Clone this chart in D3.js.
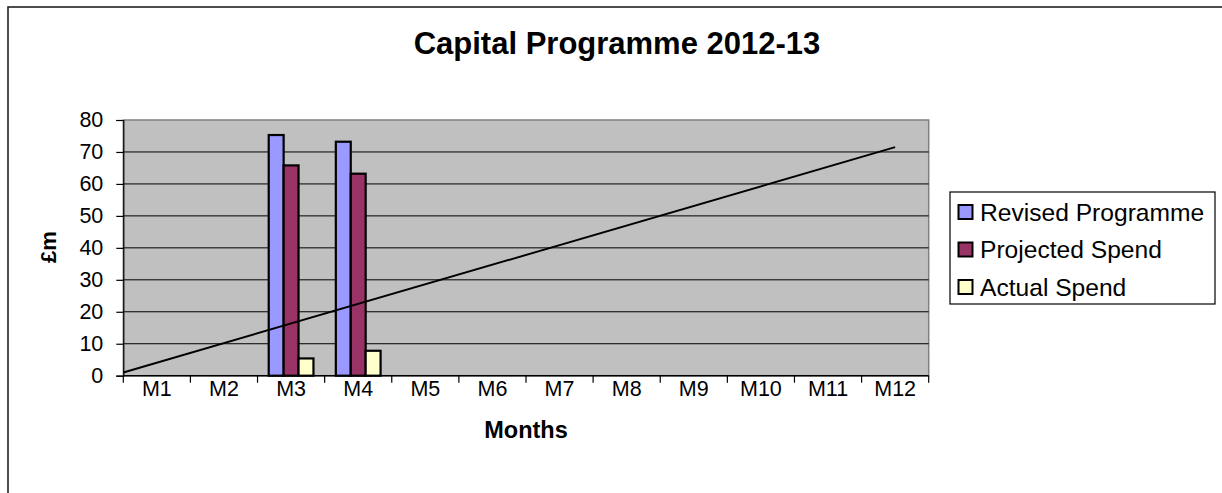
<!DOCTYPE html>
<html>
<head>
<meta charset="utf-8">
<script src="https://cdn.jsdelivr.net/npm/d3@7"></script>
<style>
  html, body { margin: 0; padding: 0; background: #fff; overflow: hidden; }
  svg { display: block; }
  text { font-family: "Liberation Sans", Arial, sans-serif; fill: #000; }
</style>
</head>
<body>
<svg id="chart" width="1222" height="493"></svg>
<script>
// Months on the category axis
const months = ["M1", "M2", "M3", "M4", "M5", "M6", "M7", "M8", "M9", "M10", "M11", "M12"];

// Bar series (£m); months without a reported value are null
const seriesNames = ["Revised Programme", "Projected Spend", "Actual Spend"];
const revisedProgramme = [null, null, 75.3, 73.2, null, null, null, null, null, null, null, null];
const projectedSpend   = [null, null, 65.8, 63.2, null, null, null, null, null, null, null, null];
const actualSpend      = [null, null, 5.4, 7.8, null, null, null, null, null, null, null, null];

// Straight profile line: position along the month axis (in months) and value (£m)
const profileMonthPos = [0, 11.5];
const profileValues   = [1.0, 71.5];

// Value axis ticks
const yTicks = [0, 10, 20, 30, 40, 50, 60, 70, 80];

const seriesColors = ["#9999FF", "#993366", "#FFFFCC"];
const seriesData = [revisedProgramme, projectedSpend, actualSpend];

const svg = d3.select("#chart");

// Outer chart frame
svg.append("rect")
  .attr("x", 8).attr("y", 7)
  .attr("width", 1240).attr("height", 520)
  .attr("fill", "#fff")
  .attr("stroke", "#222").attr("stroke-width", 1.6);

const plot = { left: 123.3, top: 120, right: 928.7, bottom: 375.7 };

const x = d3.scaleBand().domain(months).range([plot.left, plot.right]).paddingInner(0).paddingOuter(0);
const xSeries = d3.scaleBand().domain(seriesNames).range([0, x.bandwidth()]).paddingInner(0).paddingOuter(0.75);
const y = d3.scaleLinear().domain([0, 80]).range([plot.bottom, plot.top]);
const xPos = d3.scaleLinear().domain([0, months.length]).range([plot.left, plot.right]);

// Plot area background
svg.append("rect")
  .attr("x", plot.left).attr("y", plot.top)
  .attr("width", plot.right - plot.left).attr("height", plot.bottom - plot.top)
  .attr("fill", "#C0C0C0")
  .attr("stroke", "#808080").attr("stroke-width", 1.5);

// Horizontal gridlines
svg.append("g")
  .selectAll("line")
  .data(yTicks.filter(t => t > 0 && t < 80))
  .join("line")
  .attr("x1", plot.left).attr("x2", plot.right)
  .attr("y1", d => y(d)).attr("y2", d => y(d))
  .attr("stroke", "#000").attr("stroke-width", 1);

// Bars
const barGroups = svg.append("g");
seriesData.forEach((values, si) => {
  barGroups.append("g")
    .selectAll("rect")
    .data(months.map((m, i) => ({ month: m, value: values[i] })).filter(d => d.value != null))
    .join("rect")
    .attr("x", d => x(d.month) + xSeries(seriesNames[si]))
    .attr("y", d => y(d.value))
    .attr("width", xSeries.bandwidth())
    .attr("height", d => y(0) - y(d.value))
    .attr("fill", seriesColors[si])
    .attr("stroke", "#000").attr("stroke-width", 2.2);
});

// Profile line
const lineGen = d3.line().x(d => xPos(d[0])).y(d => y(d[1]));
svg.append("path")
  .datum(profileMonthPos.map((p, i) => [p, profileValues[i]]))
  .attr("d", lineGen)
  .attr("fill", "none")
  .attr("stroke", "#000").attr("stroke-width", 1.9);

// Y axis
const yAxis = d3.axisLeft(y).tickValues(yTicks).tickSize(7).tickPadding(13).tickFormat(d3.format("d"));
const yAxisG = svg.append("g").attr("transform", `translate(${plot.left},0)`).call(yAxis);
yAxisG.select(".domain").attr("stroke", "#000").attr("stroke-width", 1.2);
yAxisG.selectAll(".tick line").attr("stroke", "#000").attr("stroke-width", 1.2);
yAxisG.selectAll(".tick text").attr("font-size", 21.5).attr("font-family", "'Liberation Sans', Arial, sans-serif").attr("fill", "#000");

// X axis: ticks at category boundaries, labels centred in each month
const xAxisG = svg.append("g").attr("transform", `translate(0,${plot.bottom})`);
xAxisG.append("line")
  .attr("x1", plot.left).attr("x2", plot.right)
  .attr("stroke", "#000").attr("stroke-width", 1.5);
xAxisG.selectAll("line.tk")
  .data(d3.range(months.length + 1))
  .join("line").attr("class", "tk")
  .attr("x1", d => xPos(d)).attr("x2", d => xPos(d))
  .attr("y1", 0).attr("y2", 7)
  .attr("stroke", "#000").attr("stroke-width", 1.2);
xAxisG.selectAll("text")
  .data(months)
  .join("text")
  .attr("x", d => x(d) + x.bandwidth() / 2)
  .attr("y", 20.5)
  .attr("text-anchor", "middle")
  .attr("font-size", 21.5)
  .text(d => d);

// Titles
svg.append("text")
  .attr("x", 617).attr("y", 54)
  .attr("text-anchor", "middle")
  .attr("font-size", 31).attr("font-weight", "bold")
  .text("Capital Programme 2012-13");

svg.append("text")
  .attr("x", 526).attr("y", 438)
  .attr("text-anchor", "middle")
  .attr("font-size", 23.5).attr("font-weight", "bold")
  .text("Months");

svg.append("text")
  .attr("transform", "translate(56,247) rotate(-90)")
  .attr("text-anchor", "middle")
  .attr("font-size", 22).attr("font-weight", "bold")
  .text("£m");

// Legend
const legend = svg.append("g").attr("transform", "translate(950,192)");
legend.append("rect")
  .attr("width", 265).attr("height", 112)
  .attr("fill", "#fff").attr("stroke", "#000").attr("stroke-width", 1.2);
const rowY = d3.scalePoint().domain(seriesNames).range([20, 95]);
const items = legend.selectAll("g.item")
  .data(seriesNames)
  .join("g").attr("class", "item")
  .attr("transform", d => `translate(0,${rowY(d)})`);
items.append("rect")
  .attr("x", 8.5).attr("y", -7)
  .attr("width", 14).attr("height", 14)
  .attr("fill", (d, i) => seriesColors[i])
  .attr("stroke", "#000").attr("stroke-width", 2);
items.append("text")
  .attr("x", 30).attr("y", 8.8)
  .attr("font-size", 24.6)
  .text(d => d);
</script>
</body>
</html>
